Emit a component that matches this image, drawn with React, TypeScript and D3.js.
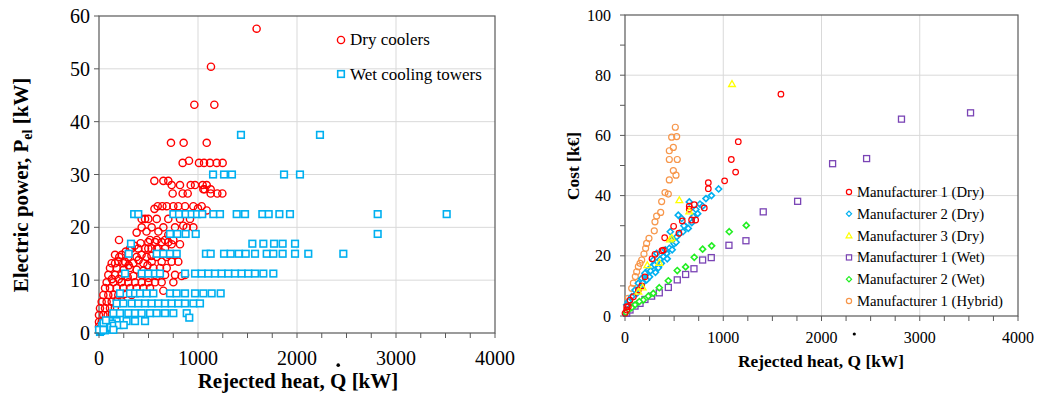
import { useLayoutEffect, useRef, useState } from "react";
import * as d3 from "d3";

// ─── LEFT PANEL DATA: [rejected heat kW, electric power kW] ───
const dryCoolers: [number, number][] = [
  [1592, 57.6], [1131, 50.4], [963, 43.2], [1165, 43.2], [727, 36], [855, 36], [1088, 36],
  [845, 32.2], [909, 32.6], [1010, 32.2], [1061, 32.2], [1121, 32.2], [1189, 32.2], [1249, 32.2],
  [559, 28.8], [650, 28.8], [700, 28.8],
  [734, 28], [818, 28], [926, 28], [970, 28], [1047, 28], [1088, 28],
  [1067, 27.2], [1128, 27.2], [1054, 27.2],
  [744, 26.4], [845, 26.4], [896, 26.4], [1195, 26.4], [1246, 26.4], [1128, 26.4],
  [593, 24], [684, 24], [751, 24], [801, 24], [869, 24], [953, 24], [1037, 24], [640, 24], [560, 23.5], [1000, 23.6],
  [1088, 23.2],
  [465, 21.6], [583, 21.6], [700, 21.6], [818, 21.6], [919, 21.6], [431, 21.6], [498, 21.6], [851, 20.3],
  [431, 20], [532, 20], [650, 20], [768, 20], [886, 20], [953, 20],
  [480, 19.2], [600, 19.2], [380, 19], [700, 18.6],
  [202, 17.6], [515, 17.6], [583, 17.6], [667, 17.6], [751, 17.6],
  [734, 16.8], [818, 16.8], [420, 17], [360, 16.5],
  [498, 17.2], [566, 17.2], [633, 17.2], [700, 17.2],
  [313, 16], [397, 16], [498, 16], [583, 16], [330, 16], [465, 16], [532, 16], [599, 16], [667, 16], [270, 15.4],
  [205, 14.4], [296, 14.4], [380, 14.4], [481, 14.4], [583, 14.4], [684, 14.4], [162, 14.8], [229, 14.8], [700, 14.8], [768, 14.8],
  [430, 14.8], [530, 14.6], [640, 15.2],
  [128, 13.2], [162, 13.2], [246, 13.2], [347, 13.2], [448, 13.2], [195, 13.5], [263, 13.5], [532, 13.5], [633, 13.5], [734, 13.5], [801, 13.5],
  [400, 13.8], [300, 12.8], [490, 12.8],
  [111, 12.3], [178, 12.3], [313, 12.3], [549, 12.3], [616, 12.3], [684, 12.3], [250, 12], [380, 12], [450, 11.8],
  [94, 11], [162, 11], [229, 11], [431, 11], [667, 11], [768, 11], [869, 11], [347, 10.8], [583, 10.8], [835, 10.8],
  [290, 10.6], [500, 10.4], [130, 10.2], [200, 10.2],
  [77, 9.6], [145, 9.6], [229, 9.6], [296, 9.6], [364, 9.6], [431, 9.6], [498, 9.6], [566, 9.6], [633, 9.6], [751, 9.6],
  [61, 8.5], [111, 8.5], [178, 8.5], [246, 8.5], [313, 8.5], [380, 8.5], [448, 8.5], [515, 8.5], [650, 8],
  [44, 7.2], [94, 7.2], [145, 7.2], [195, 7.2], [260, 7.4], [330, 7.2],
  [27, 5.9], [77, 5.9], [128, 5.9], [180, 6.2], [230, 6],
  [10, 4.7], [61, 4.7], [111, 4.7], [160, 4.8],
  [0, 3.4], [44, 3.4], [88, 3.4], [130, 3.6],
  [0, 2.1], [27, 2.1], [61, 2.1], [100, 2.4],
  [0, 1.2], [44, 1.2], [80, 1.0],
];

const wetTowers: [number, number][] = [
  [1434, 37.5], [2232, 37.5],
  [1152, 30], [1263, 30], [1343, 30], [1869, 30], [2030, 30],
  [355, 22.5], [397, 22.5], [751, 22.5], [808, 22.5], [875, 22.5], [936, 22.5], [990, 22.5], [1043, 22.5],
  [1155, 22.5], [1222, 22.5], [1391, 22.5], [1475, 22.5], [1650, 22.5], [1714, 22.5], [1822, 22.5], [1929, 22.5],
  [2815, 22.5], [3512, 22.5],
  [717, 18.75], [791, 18.75], [875, 18.75], [977, 18.75], [2815, 18.75],
  [323, 16.9], [1549, 16.9], [1660, 16.9], [1768, 16.9], [1855, 16.9], [1980, 16.9],
  [300, 15], [583, 15], [650, 15], [717, 15], [785, 15], [1080, 15], [1128, 15], [1263, 15], [1330, 15],
  [1411, 15], [1482, 15], [1576, 15], [1694, 15], [1761, 15], [1855, 15], [1980, 15], [2114, 15], [2468, 15],
  [263, 11.25], [431, 11.25], [498, 11.25], [566, 11.25], [616, 11.25], [869, 11.25], [970, 11.25], [1037, 11.25],
  [1104, 11.25], [1172, 11.25], [1239, 11.25], [1306, 11.25], [1374, 11.25], [1441, 11.25], [1508, 11.25],
  [1576, 11.25], [1660, 11.25], [1761, 11.25],
  [212, 7.5], [313, 7.5], [364, 7.5], [414, 7.5], [481, 7.5], [549, 7.5], [717, 7.5], [784, 7.5], [869, 7.5],
  [970, 7.5], [1054, 7.5], [1138, 7.5], [1229, 7.5],
  [178, 5.6], [246, 5.6], [330, 5.6], [397, 5.6], [465, 5.6], [532, 5.6], [599, 5.6], [667, 5.6], [734, 5.6],
  [801, 5.6], [869, 5.6], [953, 5.6], [1020, 5.6],
  [145, 3.75], [212, 3.75], [296, 3.75], [364, 3.75], [431, 3.75], [515, 3.75], [583, 3.75], [667, 3.75],
  [751, 3.75], [886, 3.75],
  [912, 2.9],
  [111, 2.25], [178, 2.25], [279, 2.25], [364, 2.25], [465, 2.25],
  [10, 0.2], [20, 0.4], [35, 0.7], [50, 1.0], [65, 1.2], [80, 1.5], [100, 1.6], [130, 1.8], [60, 0.5],
  [90, 0.9], [120, 1.1], [150, 1.4], [30, 1.3], [45, 1.9], [70, 2.4], [200, 1.5], [250, 1.5], [0, 0.6], [44, 0.6], [145, 0.6],
];

// ─── RIGHT PANEL DATA: [rejected heat kW, cost k€] ───
const m1Dry: [number, number][] = [
  [1587, 73.7], [1153, 57.9], [1082, 52], [1126, 47.8], [1014, 44.9], [848, 44.3], [848, 42.3],
  [807, 35.9], [705, 37], [654, 36.5], [654, 35.5], [678, 31.9], [719, 31.9], [583, 31.6], [495, 29.8],
  [549, 27.5], [404, 26], [376, 21.7], [390, 21.9], [305, 20.5], [275, 19], [203, 13], [170, 10],
  [136, 8.6], [85, 6.4], [51, 5.3], [17, 3.1], [17, 2], [0, 0.9], [34, 3.1],
];
const m2Dry: [number, number][] = [
  [953, 42.2], [824, 39], [763, 37.2], [654, 37.9], [722, 35.4], [695, 33], [617, 29.7], [644, 29.1],
  [542, 33.5], [577, 32.4], [560, 27.5], [526, 26.3], [461, 28], [475, 25.2], [451, 22.5], [424, 20.8],
  [390, 19.7], [356, 18.8], [322, 20.8], [288, 18.6], [271, 16.4], [237, 15.3], [203, 14.2], [170, 12.5],
  [136, 10.9], [102, 8.6], [68, 6.4], [34, 4.8], [17, 3.7], [250, 13], [300, 17], [340, 16], [220, 12],
  [500, 24], [600, 30], [410, 22], [150, 9.5], [120, 7.5], [180, 11], [260, 15], [310, 14.5], [370, 17.5],
  [430, 19], [480, 22], [520, 24.5], [590, 28], [680, 31], [740, 34], [790, 36.5], [880, 40],
];
const m3Dry: [number, number][] = [
  [1089, 77.1], [553, 38.5], [654, 34.8], [475, 26], [458, 25.5], [349, 17.7], [227, 16.9], [180, 9.5], [136, 8.1],
];
const m1Wet: [number, number][] = [
  [3517, 67.5], [2814, 65.4], [2459, 52.3], [2113, 50.6], [1757, 38.1], [1407, 34.6], [1231, 25], [1058, 23.5],
  [878, 19.4], [790, 18.6], [702, 15.7], [617, 13.8], [532, 12], [441, 9.5], [349, 7.7], [271, 6.6],
  [203, 5.5], [153, 4.2], [102, 3.3], [51, 2], [17, 0.9],
];
const m2Wet: [number, number][] = [
  [1234, 30.1], [1061, 28], [882, 23.3], [790, 22.2], [705, 19.5], [617, 16.3], [532, 15.1], [441, 11.7],
  [349, 9.4], [288, 7.5], [237, 6.6], [186, 5.3], [146, 4.8], [102, 3.7], [68, 2.8], [34, 2], [10, 1.1],
];
const m1Hybrid: [number, number][] = [
  [512, 62.7], [526, 59.6], [475, 59.4], [492, 56], [451, 54.9], [532, 52], [451, 52], [492, 48.3], [519, 46.8],
  [451, 45.2], [407, 41], [441, 40.5], [373, 38], [363, 34.4], [322, 33.2], [305, 31.3], [298, 28.3],
  [244, 25.8], [220, 24.1], [210, 22.5], [193, 20.6], [170, 18.6], [153, 17.5], [136, 16.4], [119, 14.7],
  [105, 13.1], [85, 10.9], [68, 9.2], [34, 5.9], [34, 4.8],
];

const xTicks = [0, 1000, 2000, 3000, 4000];
const leftYTicks = [0, 10, 20, 30, 40, 50, 60];
const rightYTicks = [0, 20, 40, 60, 80, 100];

const SERIF = "'Liberation Serif', 'Times New Roman', serif";
const AXIS = "#595959";
const GRID = "#d9d9d9";
const X_TITLE = "Rejected heat, Q [kW]";

// layout of both plot areas
const L = { x0: 99, x1: 495, y0: 333, y1: 16 };
const R = { x0: 625, x1: 1018, y0: 316, y1: 15 };

const lx = d3.scaleLinear().domain([0, 4000]).range([L.x0, L.x1]);
const ly = d3.scaleLinear().domain([0, 60]).range([L.y0, L.y1]);
const rx = d3.scaleLinear().domain([0, 4000]).range([R.x0, R.x1]);
const ry = d3.scaleLinear().domain([0, 100]).range([R.y0, R.y1]);

const minorX = d3.range(0, 4001, 250);

type Shape = "circle" | "square" | "diamond" | "triangle";

function Marker({ x, y, shape, color, s, sw, fill = "none" }:
  { x: number; y: number; shape: Shape; color: string; s: number; sw: number; fill?: string }) {
  if (shape === "circle")
    return <circle cx={x} cy={y} r={s} fill={fill} stroke={color} strokeWidth={sw} />;
  if (shape === "square")
    return <rect x={x - s} y={y - s} width={2 * s} height={2 * s} fill={fill} stroke={color} strokeWidth={sw} />;
  if (shape === "diamond")
    return <path d={`M${x},${y - s}L${x + s},${y}L${x},${y + s}L${x - s},${y}Z`} fill={fill} stroke={color} strokeWidth={sw} />;
  const tri = d3.symbol(d3.symbolTriangle, s * s * 2.2)();
  return <path d={tri ?? ""} transform={`translate(${x},${y + 0.6})`} fill={fill} stroke={color} strokeWidth={sw} />;
}

// x title; the dot over Q is placed from the rendered glyph position
function XTitle({ x, y, size, dotGap, r }: { x: number; y: number; size: number; dotGap: number; r: number }) {
  const ref = useRef<SVGTextElement>(null);
  const [dotX, setDotX] = useState<number | null>(null);
  useLayoutEffect(() => {
    const el = ref.current;
    if (!el) return;
    const box = el.getExtentOfChar(X_TITLE.indexOf("Q"));
    setDotX(box.x + box.width / 2);
  }, []);
  return (
    <g>
      <text ref={ref} x={x} y={y} textAnchor="middle" fontSize={size} fontWeight="bold">{X_TITLE}</text>
      {dotX !== null && <circle cx={dotX} cy={y - size * 0.66 - dotGap} r={r} fill="#000" />}
    </g>
  );
}

const rightSeries = [
  { name: "Manufacturer 1 (Dry)", data: m1Dry, shape: "circle" as Shape, color: "#ff0000", s: 2.8, sw: 1.2 },
  { name: "Manufacturer 2 (Dry)", data: m2Dry, shape: "diamond" as Shape, color: "#00b0f0", s: 3, sw: 1.6 },
  { name: "Manufacturer 3 (Dry)", data: m3Dry, shape: "triangle" as Shape, color: "#ffff00", s: 3, sw: 1.3 },
  { name: "Manufacturer 1 (Wet)", data: m1Wet, shape: "square" as Shape, color: "#7a44b5", s: 3, sw: 1.3 },
  { name: "Manufacturer 2 (Wet)", data: m2Wet, shape: "diamond" as Shape, color: "#22ee22", s: 3, sw: 1.6 },
  { name: "Manufacturer 1 (Hybrid)", data: m1Hybrid, shape: "circle" as Shape, color: "#f7964a", s: 3, sw: 1.2 },
];
// drawing order: wet first, dry & hybrid on top
const rightDrawOrder = [3, 4, 5, 1, 0, 2];

export default function App() {
  return (
    <svg width={1042} height={395} viewBox="0 0 1042 395"
      style={{ position: "absolute", left: 0, top: 0, background: "#fff" }}
      fontFamily={SERIF}>

      {/* ── LEFT PANEL ── */}
      <g>
        {leftYTicks.slice(1, -1).map(t => (
          <line key={t} x1={L.x0} x2={L.x1} y1={ly(t)} y2={ly(t)} stroke={GRID} strokeWidth={1} />
        ))}
        {xTicks.slice(1, -1).map(t => (
          <line key={t} x1={lx(t)} x2={lx(t)} y1={L.y1} y2={L.y0} stroke={GRID} strokeWidth={1} />
        ))}
        <rect x={L.x0} y={L.y1} width={L.x1 - L.x0} height={L.y0 - L.y1} fill="none" stroke={AXIS} strokeWidth={1.2} />

        {dryCoolers.map((d, i) => (
          <Marker key={i} x={lx(d[0])} y={ly(d[1])} shape="circle" color="#ff0000" s={3.6} sw={1.4} />
        ))}
        {wetTowers.map((d, i) => (
          <Marker key={i} x={lx(d[0])} y={ly(d[1])} shape="square" color="#00b0f0" s={3.3} sw={1.6} fill="#fff" />
        ))}

        {minorX.map(t => (
          <line key={t} x1={lx(t)} x2={lx(t)} y1={L.y0} y2={L.y0 + 5} stroke={AXIS} strokeWidth={1} />
        ))}
        {leftYTicks.map(t => (
          <g key={t}>
            <line x1={L.x0 - 5} x2={L.x0} y1={ly(t)} y2={ly(t)} stroke={AXIS} strokeWidth={1} />
            <text x={L.x0 - 9} y={ly(t) + 7} textAnchor="end" fontSize={20} fill="#000">{t}</text>
          </g>
        ))}
        {xTicks.map(t => (
          <text key={t} x={lx(t)} y={365} textAnchor="middle" fontSize={20} fill="#000">{t}</text>
        ))}

        <XTitle x={298} y={388} size={21} dotGap={9} r={1.8} />
        <text transform="translate(28,185) rotate(-90)" textAnchor="middle" fontSize={21} fontWeight="bold">
          Electric power, P<tspan dy={4} fontSize={14}>el</tspan><tspan dy={-4}> [kW]</tspan>
        </text>

        {/* legend */}
        <Marker x={341} y={40} shape="circle" color="#ff0000" s={3.6} sw={1.4} />
        <text x={350} y={45} fontSize={17}>Dry coolers</text>
        <Marker x={341} y={74} shape="square" color="#00b0f0" s={3.3} sw={1.6} fill="#fff" />
        <text x={350} y={80} fontSize={17}>Wet cooling towers</text>
      </g>

      {/* ── RIGHT PANEL ── */}
      <g>
        {rightYTicks.slice(1, -1).map(t => (
          <line key={t} x1={R.x0} x2={R.x1} y1={ry(t)} y2={ry(t)} stroke={GRID} strokeWidth={1} />
        ))}
        {xTicks.slice(1, -1).map(t => (
          <line key={t} x1={rx(t)} x2={rx(t)} y1={R.y1} y2={R.y0} stroke={GRID} strokeWidth={1} />
        ))}
        <rect x={R.x0} y={R.y1} width={R.x1 - R.x0} height={R.y0 - R.y1} fill="none" stroke={AXIS} strokeWidth={1.2} />

        {rightDrawOrder.map(si => {
          const s = rightSeries[si];
          return (
            <g key={s.name}>
              {s.data.map((d, i) => (
                <Marker key={i} x={rx(d[0])} y={ry(d[1])} shape={s.shape} color={s.color} s={s.s} sw={s.sw}
                  fill={s.shape === "diamond" ? "#fff" : "none"} />
              ))}
            </g>
          );
        })}

        {minorX.map(t => (
          <line key={t} x1={rx(t)} x2={rx(t)} y1={R.y0} y2={R.y0 + 5} stroke={AXIS} strokeWidth={1} />
        ))}
        {d3.range(0, 101, 10).map(t => (
          <line key={t} x1={R.x0 - 5} x2={R.x0} y1={ry(t)} y2={ry(t)} stroke={AXIS} strokeWidth={1} />
        ))}
        {rightYTicks.map(t => (
          <text key={t} x={R.x0 - 14} y={ry(t) + 5.5} textAnchor="end" fontSize={16}>{t}</text>
        ))}
        {xTicks.map(t => (
          <text key={t} x={rx(t)} y={343} textAnchor="middle" fontSize={16}>{t}</text>
        ))}

        <XTitle x={821} y={367} size={17.4} dotGap={21.5} r={1.6} />
        <text transform="translate(579,166) rotate(-90)" textAnchor="middle" fontSize={17.4} fontWeight="bold">
          Cost [k€]
        </text>

        {/* legend */}
        {rightSeries.map((s, i) => (
          <g key={s.name}>
            <Marker x={849} y={192 + i * 21.8} shape={s.shape} color={s.color} s={2.6} sw={1.2}
              fill={s.shape === "diamond" ? "#fff" : "none"} />
            <text x={857} y={192 + i * 21.8 + 5} fontSize={14.7}>{s.name}</text>
          </g>
        ))}
      </g>
    </svg>
  );
}
